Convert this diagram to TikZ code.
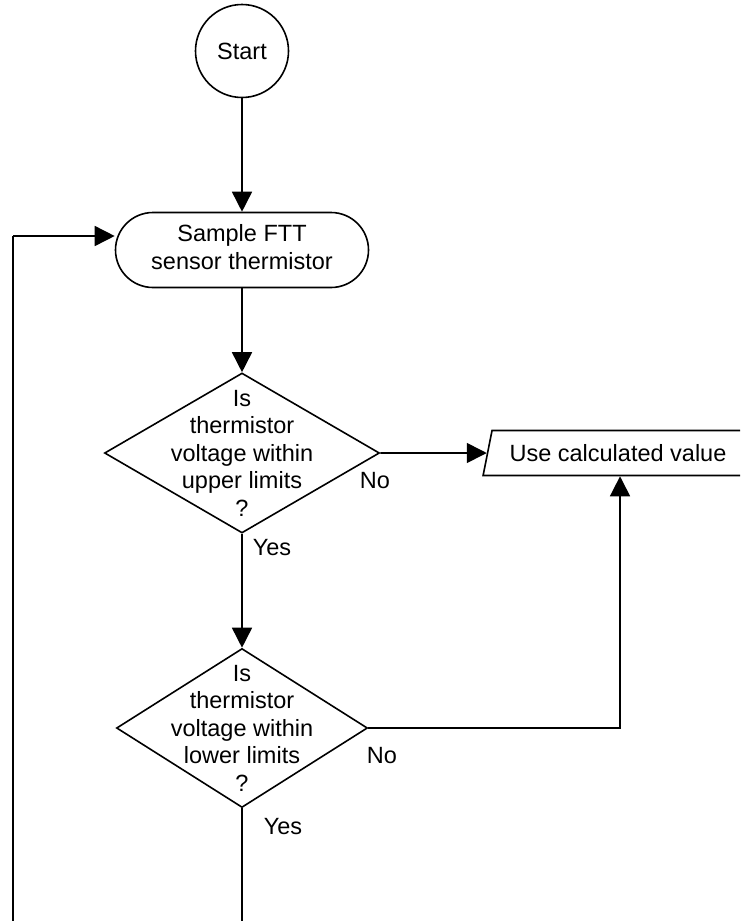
\documentclass[tikz,border=0pt]{standalone}
\usepackage{fontspec}
\setmainfont{Liberation Sans}
\usetikzlibrary{shapes.geometric,shapes.misc,arrows.meta}
\begin{document}
\begin{tikzpicture}[x=1pt,y=1pt,
  every node/.style={font=\fontsize{23.5}{27.5}\selectfont},
  line/.style={line width=1.6pt},
  flow/.style={line, -{Triangle[length=20pt,width=20pt]}},
  startnode/.style={circle, draw, line width=1.6pt, minimum size=93pt, inner sep=0pt},
  terminal/.style={rounded rectangle, draw, line width=1.6pt, minimum width=253pt,
    minimum height=75pt, inner sep=0pt, align=center},
  decision/.style={diamond, draw, line width=1.6pt, inner sep=0pt},
  textblock/.style={align=center},
  iobox/.style={trapezium, draw, line width=1.6pt, trapezium left angle=66,
    trapezium right angle=114, trapezium stretches=true, inner sep=0pt,
    minimum width=270pt, minimum height=45pt},
  tag/.style={inner sep=0pt}
]
\useasboundingbox (0,0) rectangle (740,-921);
\clip (0,0) rectangle (740,-921);

% nodes
\node[startnode] (start) at (242,-51) {Start};
\node[terminal, label={[textblock, yshift=3pt]center:Sample FTT\\sensor thermistor}]
  (term) at (242,-250) {};
\node[decision, minimum width=275pt, minimum height=160pt,
  label={[textblock]center:Is\\thermistor\\voltage within\\upper limits\\?}]
  (d1) at (242,-453) {};
\node[decision, minimum width=251pt, minimum height=159pt,
  label={[textblock]center:Is\\thermistor\\voltage within\\lower limits\\?}]
  (d2) at (242,-728) {};
\node[iobox] (io) at (618,-453) {Use calculated value};

% free ends of the lines that leave the page
\coordinate (down) at (242,-930);
\coordinate (loopbase) at (13,-930);
\coordinate (looptop) at (13,-236);

% connectors
\draw[flow] (start) -- (term);
\draw[flow] (term) -- (d1);
\draw[flow] (d1) -- (d2);
\draw[flow] (d1.east) -- (io.west);
\draw[flow] (d2.east) -| ([xshift=2pt]io.south);
\draw[line] (d2.south) -- (down);
\draw[line] (loopbase) -- (looptop);
\draw[flow] (looptop) -- (looptop -| term.west);

% branch labels
\node[tag] (no1) at (375,-481) {No};
\node[tag] (yes1) at (272,-548) {Yes};
\node[tag] (no2) at (382,-756) {No};
\node[tag] (yes2) at (283,-827) {Yes};
\end{tikzpicture}
\end{document}
